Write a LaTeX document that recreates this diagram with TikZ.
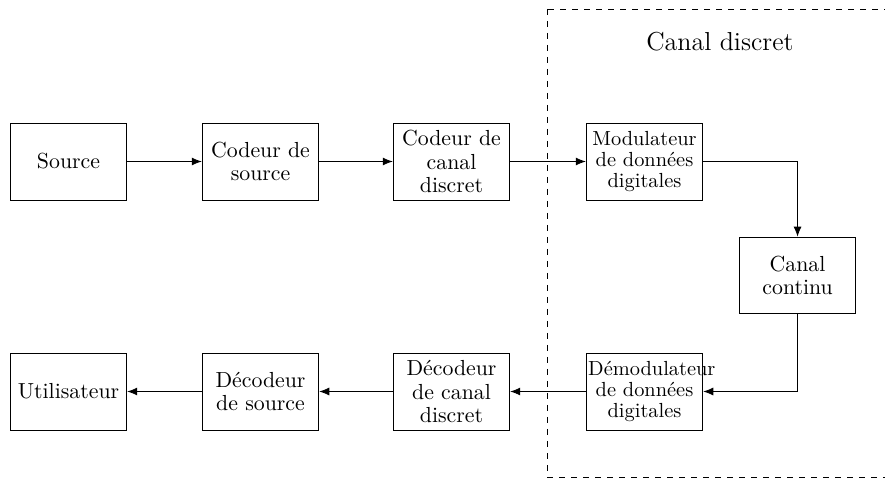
\documentclass[tikz,border=0pt]{standalone}
\usepackage{amsmath}
\usetikzlibrary{arrows.meta}
\tikzset{bloc/.style={rectangle, draw, minimum width=2.05cm, minimum height=1.35cm,
    align=center, inner sep=1pt, font=\fontsize{10.9}{11.6}\selectfont},
  petit/.style={text width=1.98cm, font=\fontsize{10.2}{10.6}\selectfont}}

\begin{document}
\begin{tikzpicture}[>={Latex[length=5pt,width=4pt]}]
  \useasboundingbox (0,0) rectangle (15.552,-8.417);
  % canal discret
  \draw[dashed] (9.612,-0.158) rectangle (16,-8.382);
  \node (titre) at (12.65,-0.738) {\fontsize{13}{15}\selectfont Canal discret};
  % emission
  \node[bloc] (src) at (1.204,-2.838) {Source};
  \node[bloc] (csrc) at (4.578,-2.838) {Codeur de\\source};
  \node[bloc] (ccan) at (7.934,-2.838) {Codeur de\\canal\\discret};
  \node[bloc,petit] (mod) at (11.326,-2.838) {Modulateur\\de donn\'ees\\digitales};
  \node[bloc] (cont) at (14.015,-4.841) {Canal\\continu};
  % reception
  \node[bloc,petit] (demod) at (11.326,-6.880) {D\'emodulateur\\de donn\'ees\\digitales};
  \node[bloc] (dcan) at (7.934,-6.880) {D\'ecodeur\\de canal\\discret};
  \node[bloc] (dsrc) at (4.578,-6.880) {D\'ecodeur\\de source};
  \node[bloc] (user) at (1.204,-6.880) {Utilisateur};
  \foreach \from/\to in {src/csrc,csrc/ccan,ccan/mod,demod/dcan,dcan/dsrc,dsrc/user}
    \draw[->] (\from) -- (\to);
  \draw[->] (mod.east) -| (cont.north);
  \draw[->] (cont.south) |- (demod.east);
\end{tikzpicture}
\end{document}
